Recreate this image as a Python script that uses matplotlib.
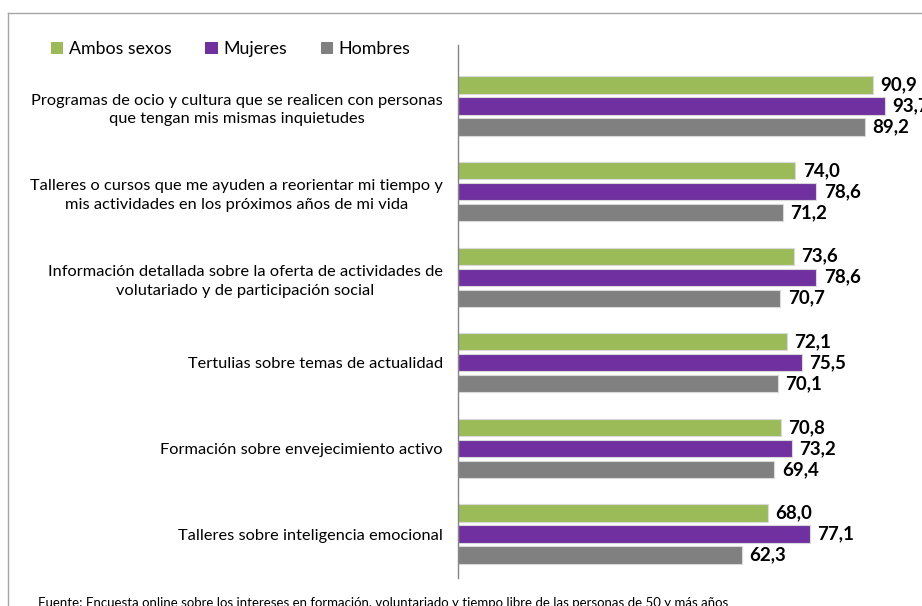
import matplotlib

matplotlib.use("Agg")
import matplotlib.pyplot as plt  # noqa: E402
import numpy as np  # noqa: E402
from matplotlib.lines import Line2D  # noqa: E402
from matplotlib.patches import Patch  # noqa: E402

plt.rcParams["font.family"] = ["Lato", "DejaVu Sans"]

categories = [
    "Programas de ocio y cultura que se realicen con personas\nque tengan mis mismas inquietudes",
    "Talleres o cursos que me ayuden a reorientar mi tiempo y\nmis actividades en los próximos años de mi vida",
    "Información detallada sobre la oferta de actividades de\nvolutariado y de participación social",
    "Tertulias sobre temas de actualidad",
    "Formación sobre envejecimiento activo",
    "Talleres sobre inteligencia emocional",
]
ambos = [90.9, 74.0, 73.6, 72.1, 70.8, 68.0]
mujeres = [93.7, 78.6, 78.6, 75.5, 73.2, 77.1]
hombres = [89.2, 71.2, 70.7, 70.1, 69.4, 62.3]
series_names = ["Ambos sexos", "Mujeres", "Hombres"]
colors = ["#9BBB59", "#7030A0", "#808080"]
source = ("Fuente: Encuesta online sobre los intereses en formación, voluntariado "
          "y tiempo libre de las personas de 50 y más años")

W, H = 922, 606
fig = plt.figure(figsize=(W / 100, H / 100), dpi=100)

# axes placed in pixel terms
left, right, top, bottom = 458, 922, 45, 578
ax = fig.add_axes([left / W, 1 - bottom / H, (right - left) / W, (bottom - top) / H])

y = np.arange(len(categories))
off = 0.2453
bh = 0.20
for k, (vals, col) in enumerate(zip([ambos, mujeres, hombres], colors)):
    pos = y + (k - 1) * off
    ax.barh(pos, vals, height=bh, color=col, edgecolor="#d9d9d9", linewidth=0.8)
    for p, v in zip(pos, vals):
        ax.text(v + 1.6, p, f"{v:.1f}".replace(".", ","), va="center", ha="left",
                fontsize=13.5, fontweight="bold", color="black", clip_on=False)

ax.set_xlim(0, (right - left) / 4.56)
ax.set_ylim(len(categories) - 1 + 0.514, -0.713)
ax.set_yticks(y)
ax.set_yticklabels(categories, fontsize=11.8, ha="right", multialignment="center",
                   linespacing=1.45)
ax.tick_params(axis="y", length=0, pad=11)
ax.set_xticks([])
for s in ["top", "right", "bottom"]:
    ax.spines[s].set_visible(False)
ax.spines["left"].set_color("#868686")
ax.spines["left"].set_linewidth(1)

# outer frame (cut at the right and bottom like the source)
fig.add_artist(Line2D([8 / W, 1], [1 - 13 / H, 1 - 13 / H], color="#a6a6a6", lw=1))
fig.add_artist(Line2D([8 / W, 8 / W], [1 - 13 / H, 0], color="#a6a6a6", lw=1))

handles = [Patch(facecolor=c, edgecolor="none") for c in colors]
fig.legend(handles, series_names, loc="center left", bbox_to_anchor=(51 / W, 1 - 49 / H),
           ncol=3, frameon=False, fontsize=12.8, handlelength=0.7, handleheight=0.7,
           handletextpad=0.3, columnspacing=1.9, borderaxespad=0, borderpad=0)

fig.text(38 / W, 1 - 597 / H, source, fontsize=9.5, ha="left", va="top")

fig.savefig("out.png", dpi=100)
